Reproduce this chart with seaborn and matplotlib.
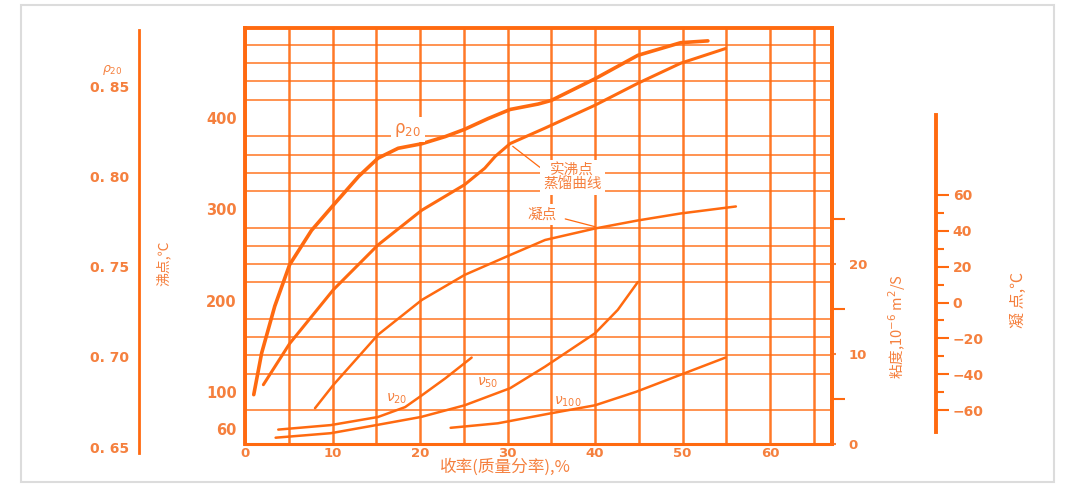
import numpy as np
import pandas as pd
import seaborn as sns
import matplotlib.pyplot as plt
from matplotlib.patches import Rectangle
from matplotlib.ticker import FixedLocator, FixedFormatter, MultipleLocator

# yield (mass %) vs properties
rho_x = [1.0, 1.9, 3.4, 5.1, 7.6, 10.1, 13.0, 15.2, 17.5, 20.2, 22.9, 25.1, 27.8, 30.3, 33.5, 35.0, 40.0, 44.9, 49.8, 52.9]
rho_y = [0.679, 0.702, 0.728, 0.751, 0.770, 0.784, 0.800, 0.810, 0.8155, 0.818, 0.822, 0.826, 0.832, 0.837, 0.840, 0.842, 0.854, 0.867, 0.874, 0.875]

tbp_x = [2.1, 5.1, 10.1, 15.2, 20.2, 25.1, 27.4, 28.6, 30.3, 34.3, 40.0, 44.9, 49.8, 54.9]
tbp_y = [108, 153, 212, 261, 299, 327, 345, 358, 372, 389, 414, 438, 460, 476]

fz_x = [8.0, 10.1, 15.2, 20.2, 25.1, 30.3, 34.3, 40.0, 44.9, 49.8, 56.1]
fz_y = [-59, -46, -18, 1.4, 15.4, 26.5, 34.9, 41.3, 45.8, 49.7, 53.6]

nu20_x = [3.8, 9.8, 15.2, 18.3, 20.2, 22.9, 25.9]
nu20_y = [1.6, 2.1, 3.0, 4.1, 5.4, 7.3, 9.6]

nu50_x = [3.5, 9.8, 15.0, 20.1, 25.1, 30.3, 34.3, 40.0, 42.6, 44.9]
nu50_y = [0.7, 1.2, 2.1, 3.0, 4.3, 6.2, 8.6, 12.3, 14.9, 18.0]

nu100_x = [23.5, 28.9, 34.9, 40.0, 44.7, 49.8, 54.9]
nu100_y = [1.8, 2.3, 3.4, 4.3, 5.8, 7.7, 9.6]

x_ticks = [0, 10, 20, 30, 40, 50, 60]
t_ticks = [60, 100, 200, 300, 400]
rho_ticks = [0.65, 0.70, 0.75, 0.80, 0.85]
rho_labels = ["0. 65", "0. 70", "0. 75", "0. 80", "0. 85"]
visc_ticks = [0, 10, 20]
fz_ticks = [-60, -40, -20, 0, 20, 40, 60]
fz_labels = ["\u221260", "\u221240", "\u221220", "0", "20", "40", "60"]

LINE = "#FF6A10"
TEXT = "#F5803E"
NUM = dict(family="DejaVu Sans", weight="bold")

sns.set_style("white")
plt.rcParams["font.family"] = ["Noto Sans CJK SC", "DejaVu Sans"]
plt.rcParams["mathtext.fontset"] = "dejavusans"

W, H = 1072, 491
fig = plt.figure(figsize=(W / 100, H / 100), dpi=100)


def rect(x0, y0, x1, y1):
    return [x0 / W, 1 - y1 / H, (x1 - x0) / W, (y1 - y0) / H]


def lim(pa, va, pb, vb, top, bot):
    f = lambda p: va + (p - pa) * (vb - va) / (pb - pa)
    return f(bot), f(top)


def bold_nums(labels, size):
    for lab in labels:
        lab.set_fontfamily(NUM["family"])
        lab.set_fontweight(NUM["weight"])
        lab.set_fontsize(size)


# outer frame
fig.add_artist(Rectangle((21 / W, 1 - 482 / H), (1054 - 21) / W, (482 - 5) / H,
                         transform=fig.transFigure, fill=False, ec="#dcdcdc", lw=1.5))

# main axes: boiling point scale
ax = fig.add_axes(rect(245, 28, 832, 444))
ax.set_xlim(0, (832 - 245) / 8.75)
ax.set_ylim(*lim(392, 100, 118, 400, 28, 444))
ax.xaxis.set_major_locator(FixedLocator(x_ticks))
ax.xaxis.set_minor_locator(MultipleLocator(5))
ax.yaxis.set_major_locator(FixedLocator(t_ticks))
ax.yaxis.set_minor_locator(MultipleLocator(20))
ax.grid(which="both", axis="x", color=LINE, lw=1.8, alpha=0.9)
ax.grid(which="minor", axis="y", color=LINE, lw=1.2, alpha=0.85)
ax.tick_params(axis="both", which="both", length=0, colors=TEXT)
ax.tick_params(axis="x", pad=2)
ax.tick_params(axis="y", pad=6)
bold_nums(ax.get_xticklabels(), 9.5)
bold_nums(ax.get_yticklabels(), 10.5)
for side, w in [("left", 2.8), ("top", 2.8), ("right", 2.8), ("bottom", 2.2)]:
    ax.spines[side].set_color(LINE)
    ax.spines[side].set_linewidth(w)

sns.lineplot(x=tbp_x, y=tbp_y, ax=ax, color=LINE, lw=2.2)

# density curve
ax_r = ax.twinx()
ax_r.set_ylim(*lim(86, 0.85, 447, 0.65, 28, 444))
ax_r.axis("off")
sns.lineplot(x=rho_x, y=rho_y, ax=ax_r, color=LINE, lw=2.6)

# freezing point curve
ax_f = ax.twinx()
ax_f.set_ylim(*lim(195, 60, 410, -60, 28, 444))
ax_f.axis("off")
sns.lineplot(x=fz_x, y=fz_y, ax=ax_f, color=LINE, lw=1.8)

# viscosity curves with right scale
ax_v = ax.twinx()
ax_v.set_ylim(*lim(444, 0, 264, 20, 28, 444))
for s in ["left", "top", "bottom"]:
    ax_v.spines[s].set_visible(False)
ax_v.spines["right"].set_color(LINE)
ax_v.spines["right"].set_linewidth(2.8)
ax_v.yaxis.set_major_locator(FixedLocator(visc_ticks))
ax_v.yaxis.set_minor_locator(FixedLocator([5, 15, 25]))
ax_v.tick_params(axis="y", which="major", length=3, width=1.5, pad=9, colors=TEXT)
ax_v.tick_params(axis="y", which="minor", length=9, width=1.5, color=LINE)
bold_nums(ax_v.get_yticklabels(), 9.5)
for xs, ys in [(nu20_x, nu20_y), (nu50_x, nu50_y), (nu100_x, nu100_y)]:
    sns.lineplot(x=xs, y=ys, ax=ax_v, color=LINE, lw=1.8)

# annotations (placed in boiling point coordinates)
tr = ax.transData
box = dict(fc="white", ec="none", pad=2.5)
ax_v.text(18.6, 387, r"$\mathrm{\rho_{20}}$", transform=tr, color=TEXT, fontsize=12,
          ha="center", va="center", bbox=box)
ax_v.text(37.4, 335, "实沸点\n蒸馏曲线", transform=tr, color=TEXT, fontsize=10.5,
          ha="center", va="center", linespacing=1.0, bbox=box)
ax_v.text(34.0, 294, "凝点", transform=tr, color=TEXT, fontsize=10.5,
          ha="center", va="center", bbox=box)
ax_v.plot([33.7, 30.6], [346, 369], transform=tr, color=LINE, lw=0.9)
ax_v.plot([36.6, 40.0], [289.5, 281], transform=tr, color=LINE, lw=0.9)
ax_v.text(17.3, 93, r"$\nu_{20}$", transform=tr, color=TEXT, fontsize=10, ha="center", va="center")
ax_v.text(27.7, 110, r"$\nu_{50}$", transform=tr, color=TEXT, fontsize=10, ha="center", va="center")
ax_v.text(36.9, 89, r"$\nu_{100}$", transform=tr, color=TEXT, fontsize=10, ha="center", va="center")

# left density scale
ax_d = fig.add_axes(rect(139, 30, 140, 453))
ax_d.set_ylim(*lim(86, 0.85, 447, 0.65, 30, 453))
ax_d.set_xticks([])
for s in ["right", "top", "bottom"]:
    ax_d.spines[s].set_visible(False)
ax_d.spines["left"].set_color(LINE)
ax_d.spines["left"].set_linewidth(2)
ax_d.yaxis.set_major_locator(FixedLocator(rho_ticks))
ax_d.yaxis.set_major_formatter(FixedFormatter(rho_labels))
ax_d.tick_params(axis="y", length=5, width=1.5, color=LINE, pad=2, labelcolor=TEXT)
bold_nums(ax_d.get_yticklabels(), 10)
ax_d.patch.set_alpha(0)

# right freezing point scale
ax_z = fig.add_axes(rect(935, 115, 936, 432))
ax_z.set_ylim(*lim(195, 60, 410, -60, 115, 432))
ax_z.set_xticks([])
for s in ["left", "top", "bottom"]:
    ax_z.spines[s].set_visible(False)
ax_z.spines["right"].set_color(LINE)
ax_z.spines["right"].set_linewidth(2.8)
ax_z.yaxis.tick_right()
ax_z.yaxis.set_major_locator(FixedLocator(fz_ticks))
ax_z.yaxis.set_major_formatter(FixedFormatter(fz_labels))
ax_z.yaxis.set_minor_locator(FixedLocator([-50, -30, -10, 10, 30, 50]))
ax_z.tick_params(axis="y", which="major", length=9, width=1.5, color=LINE, pad=3,
                 labelcolor=TEXT)
ax_z.tick_params(axis="y", which="minor", length=6, width=1.5, color=LINE)
bold_nums(ax_z.get_yticklabels(), 10)
ax_z.patch.set_alpha(0)

# axis titles
def ftext(x, y, s, **kw):
    fig.text(x / W, 1 - y / H, s, color=TEXT, ha="center", va="center", **kw)

ftext(112, 70, r"$\rho_{20}$", fontsize=9)
ftext(163, 263, "沸点,℃", fontsize=10, rotation=90)
ftext(897, 327, "粘度,10$^{-6}$ m$^{2}$/S", fontsize=10.5, rotation=90)
ftext(1018, 300, "凝 点,℃", fontsize=11.5, rotation=90)
ftext(505, 467, "收率(质量分率),%", fontsize=12)

fig.savefig("out.png", dpi=100, facecolor="white")
